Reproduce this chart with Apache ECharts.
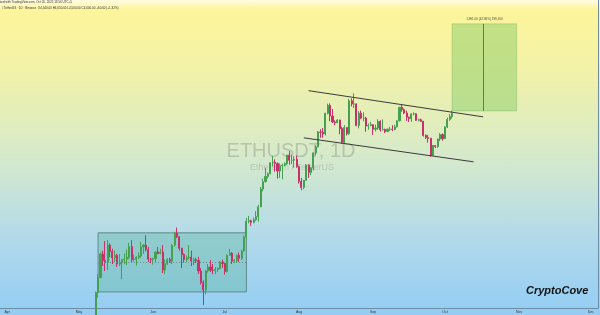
<!DOCTYPE html>
<html><head><meta charset="utf-8">
<script src="https://cdn.jsdelivr.net/npm/echarts@6/dist/echarts.min.js"></script>
<style>
html,body{margin:0;padding:0;}
#c{width:600px;height:315px;background:linear-gradient(to bottom,#fffbe2 0%,#fdf59c 3%,#f4f2a6 20%,#e0edbe 40%,#cfe7d2 55%,#b3daea 75%,#93cdf4 100%);}
</style>
</head><body><div id="c"></div>
<script>
// axis span (daily categories)
const axisStart = '2025-03-29';
const axisEnd = '2025-12-04';
const monthNames = ['Jan','Feb','Mar','Apr','May','Jun','Jul','Aug','Sep','Oct','Nov','Dec'];

// daily candles [open, high, low, close], each list starts on the given day
const mayStart = '2025-05-08';
const mayCandles = [
 [1810,2215,1805,2207],[2207,2380,2160,2345],[2345,2600,2340,2582],[2582,2620,2460,2515],
 [2515,2725,2410,2495],[2495,2738,2420,2680],[2680,2700,2550,2610],[2610,2640,2480,2545],
 [2545,2620,2500,2570],[2570,2585,2450,2480],[2480,2585,2460,2495],[2495,2530,2330,2525],
 [2525,2590,2480,2530],[2530,2630,2470,2550],[2550,2705,2530,2665],[2665,2735,2500,2525],
 [2525,2580,2505,2530],[2530,2560,2465,2550],[2550,2600,2530,2565],[2565,2715,2545,2660],
 [2660,2690,2585,2680],[2680,2790,2610,2630],[2630,2660,2500,2530],[2530,2545,2490,2528]
];
const junStart = '2025-06-01';
const junCandles = [
 [2528,2545,2475,2535],[2535,2610,2500,2605],[2605,2660,2580,2590],[2590,2640,2580,2605],
 [2605,2680,2390,2420],[2420,2525,2380,2482],[2482,2540,2470,2525],[2525,2545,2490,2510],
 [2510,2690,2480,2680],[2680,2830,2660,2815],[2815,2880,2760,2772],[2772,2780,2620,2645],
 [2645,2650,2440,2580],[2580,2590,2495,2525],[2525,2570,2500,2545],[2545,2680,2530,2550],
 [2550,2620,2460,2510],[2510,2545,2470,2525],[2525,2545,2490,2515],[2515,2555,2380,2410],
 [2410,2440,2280,2300],[2300,2320,2095,2230],[2230,2420,2190,2410],[2410,2480,2395,2450],
 [2450,2520,2400,2418],[2418,2480,2380,2415],[2415,2450,2380,2425],[2425,2445,2400,2435],
 [2435,2510,2425,2500],[2500,2525,2440,2486]
];
const julStart = '2025-07-01';
const julCandles = [
 [2486,2490,2375,2405],[2405,2580,2395,2570],[2570,2640,2565,2592],[2592,2605,2480,2510],
 [2510,2530,2490,2515],[2515,2580,2490,2570],[2570,2600,2500,2540],[2540,2630,2520,2615],
 [2615,2790,2610,2770],[2770,2995,2750,2952],[2952,3020,2930,2960],[2960,2975,2900,2942],
 [2942,3000,2930,2972],[2972,3080,2960,3012],[3012,3160,2950,3135],[3135,3400,3130,3372],
 [3372,3520,3340,3475],[3475,3680,3465,3550],[3550,3610,3520,3592],[3592,3760,3580,3755],
 [3755,3860,3700,3762],[3762,3810,3620,3745],[3745,3760,3520,3630],[3630,3745,3530,3710],
 [3710,3740,3510,3720],[3720,3760,3700,3745],[3745,3880,3720,3875],[3875,3940,3725,3795],
 [3795,3880,3735,3795],[3795,3860,3680,3810],[3810,3870,3680,3695]
];
const augStart = '2025-08-01';
const augCandles = [
 [3695,3710,3450,3480],[3480,3530,3355,3395],[3395,3500,3370,3495],[3495,3735,3490,3720],
 [3720,3730,3530,3610],[3610,3690,3570,3680],[3680,3920,3640,3910],[3910,4030,3870,4010],
 [4010,4280,4000,4260],[4260,4310,4160,4255],[4255,4330,4160,4225],[4225,4610,4200,4600],
 [4600,4785,4580,4750],[4750,4790,4450,4550],[4550,4680,4420,4440],[4440,4470,4380,4425],
 [4425,4490,4420,4475],[4475,4480,4220,4320],[4320,4355,4060,4080],[4080,4380,4070,4340],
 [4340,4350,4200,4230],[4230,4880,4210,4840],[4840,4890,4730,4780],[4780,4990,4700,4780],
 [4780,4790,4360,4375],[4375,4640,4325,4600],[4600,4650,4490,4510],[4510,4620,4450,4510],
 [4510,4530,4265,4365],[4365,4410,4300,4375],[4375,4440,4360,4390]
];
const sepStart = '2025-09-01';
const sepCandles = [
 [4390,4395,4210,4310],[4310,4390,4270,4330],[4330,4490,4300,4450],[4450,4470,4265,4300],
 [4300,4485,4290,4305],[4305,4320,4240,4270],[4270,4320,4265,4310],[4310,4350,4280,4310],
 [4310,4380,4275,4305],[4305,4390,4290,4350],[4350,4470,4340,4460],[4460,4720,4450,4715],
 [4715,4770,4630,4670],[4670,4690,4585,4605],[4605,4650,4460,4525],[4525,4540,4440,4500],
 [4500,4600,4440,4590],[4590,4620,4560,4590],[4590,4600,4460,4470],[4470,4500,4450,4480],
 [4480,4500,4440,4450],[4450,4460,4180,4200],[4200,4220,4140,4165],[4165,4210,4080,4150],
 [4150,4165,3850,3870],[3870,4040,3865,4030],[4030,4040,3990,4015],[4015,4145,3990,4140],
 [4140,4240,4105,4215],[4215,4235,4110,4145]
];
const octStart = '2025-10-01';
const octCandles = [
 [4145,4360,4140,4350],[4350,4520,4330,4485],[4485,4590,4460,4540],[4540,4650,4500,4600]
];

// drawings
const rangeBox = ['2025-05-09','2025-07-10',2818,2212];
const rangeMid = 2497;
const targetBox = ['2025-10-04','2025-10-31',6636,4645];
const targetMidDay = '2025-10-17';
const targetLabel = '1,991.00 (42.86%) 199,100';
const upperChannel = [['2025-08-05',5047],['2025-10-17',4533]];
const lowerChannel = [['2025-08-03',4160],['2025-10-13',3770]];
const yRange = [2071, 7318];

function addDays(s,n){const d=new Date(s+'T00:00:00Z');d.setUTCDate(d.getUTCDate()+n);return d.toISOString().slice(0,10);}
const days=[];
for(let d=axisStart; d<=axisEnd; d=addDays(d,1)) days.push(d);

const candleData=[];
[[mayStart,mayCandles],[junStart,junCandles],[julStart,julCandles],[augStart,augCandles],[sepStart,sepCandles],[octStart,octCandles]].forEach(([st,rows])=>{
  rows.forEach((r,i)=>{
    const idx=days.indexOf(addDays(st,i));
    candleData.push([idx,r[0],r[3],r[2],r[1]]);
  });
});

const UP='#46a052', DOWN='#c83068';
const chart=echarts.init(document.getElementById('c'),null,{renderer:'canvas'});
chart.setOption({
  animation:false,
  backgroundColor:'transparent',
  grid:{left:0,right:2,top:0,bottom:7},
  xAxis:{type:'category',data:days,boundaryGap:false,
    axisLine:{show:true,lineStyle:{color:'#6f8ca5',width:1}},
    axisTick:{show:false},
    axisLabel:{interval:(i,v)=>v.slice(8)==='01',formatter:v=>monthNames[+v.slice(5,7)-1],fontSize:3.5,color:'#333',margin:2,fontFamily:'Liberation Sans'},
    splitLine:{show:false}},
  yAxis:{type:'log',position:'right',min:yRange[0],max:yRange[1],
    axisLine:{show:true,lineStyle:{color:'#6f8ca5'}},axisLabel:{show:false},axisTick:{show:false},splitLine:{show:false}},
  graphic:[
    {type:'text',left:-6,top:1,z:10,style:{text:'Created with TradingView.com, Oct 05, 2025 13:56 UTC+5',fontSize:3,fill:'#333',fontFamily:'Liberation Sans'}},
    {type:'text',left:2,top:7,z:10,style:{text:'/ TetherUS · 1D · Binance  O4,540.00 H4,650.00 L4,500.00 C4,600.00 +60.00 (+1.32%)',fontSize:3,fill:'#333',fontFamily:'Liberation Sans'}},
    {type:'text',x:291,y:151,z:0,style:{text:'ETHUSDT, 1D',fontSize:20,fill:'rgba(90,90,90,0.26)',align:'center',verticalAlign:'middle',fontFamily:'Liberation Sans'}},
    {type:'text',x:292,y:168,z:0,style:{text:'Ethereum / TetherUS',fontSize:9,fill:'rgba(90,90,90,0.24)',align:'center',verticalAlign:'middle',fontFamily:'Liberation Sans'}},
    {type:'text',x:526,y:291,z:10,style:{text:'CryptoCove',fontSize:11,fontWeight:'bold',fontStyle:'italic',fill:'#111',verticalAlign:'middle',fontFamily:'Liberation Sans'}}
  ],
  series:[{
    type:'candlestick',
    data:candleData,
    encode:{x:0,y:[1,2,3,4]},
    barWidth:1.6,
    clip:true,
    itemStyle:{color:UP,color0:DOWN,borderColor:UP,borderColor0:DOWN,borderWidth:1},
    markArea:{silent:true,data:[
      [{coord:[rangeBox[0],rangeBox[2]],itemStyle:{color:'rgba(100,185,165,0.42)',borderColor:'#5c8b88',borderWidth:1}},{coord:[rangeBox[1],rangeBox[3]]}],
      [{coord:[targetBox[0],targetBox[2]],itemStyle:{color:'rgba(140,205,105,0.5)',borderColor:'rgba(100,160,80,0.6)',borderWidth:0.5},
        label:{show:true,position:'top',distance:3,formatter:targetLabel,fontSize:3,color:'#444',fontFamily:'Liberation Sans'}},{coord:[targetBox[1],targetBox[3]]}]
    ]},
    markLine:{silent:true,symbol:['none','none'],label:{show:false},data:[
      [{coord:upperChannel[0],lineStyle:{color:'#3a3a3a',width:1,type:'solid'}},{coord:upperChannel[1]}],
      [{coord:lowerChannel[0],lineStyle:{color:'#3a3a3a',width:1,type:'solid'}},{coord:lowerChannel[1]}],
      [{coord:[rangeBox[0],rangeMid],lineStyle:{color:'#6e8f8c',width:1,type:[1,2]}},{coord:[rangeBox[1],rangeMid]}],
      [{coord:[targetMidDay,targetBox[2]],lineStyle:{color:'#5d7f52',width:1,type:'solid'}},{coord:[targetMidDay,targetBox[3]]}]
    ]}
  }]
});
</script>
</body></html>
